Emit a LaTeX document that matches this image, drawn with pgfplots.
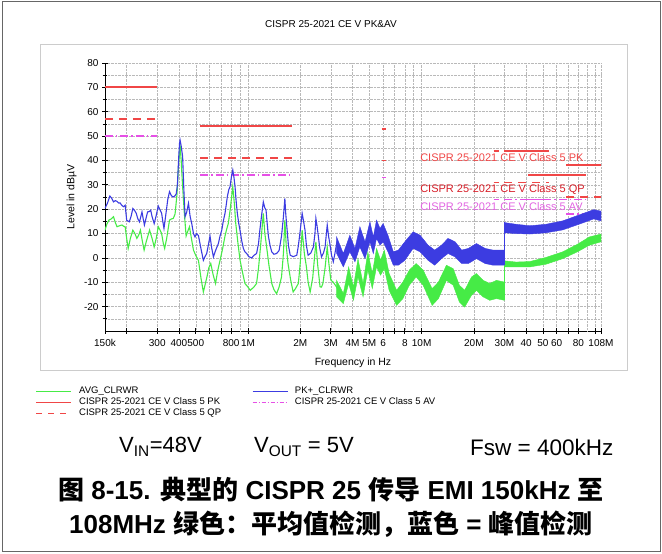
\documentclass[border=0pt]{standalone}
\usepackage{pgfplots}
\pgfplotsset{compat=1.18}
\usepackage{fontspec}
\setmainfont{Liberation Sans}
\newfontfamily\cjk{Noto Sans CJK SC}
\definecolor{avg}{RGB}{70,235,70}
\definecolor{pkp}{RGB}{60,60,225}
\definecolor{lred}{RGB}{240,70,70}
\definecolor{qptext}{RGB}{215,30,40}
\definecolor{avm}{RGB}{230,80,230}
\definecolor{avtext}{RGB}{225,100,225}
\begin{document}
\begin{tikzpicture}
\useasboundingbox (0pt,0pt) rectangle (662pt,554pt);
\draw[gray!80!black, line width=1pt] (2pt,2pt) rectangle (660pt,552pt);
\draw[gray!40, line width=0.8pt] (40pt,184pt) rectangle (627pt,510pt);
\node[font=\fontsize{10}{12}\selectfont] at (331pt,530pt) {CISPR 25-2021 CE V PK\&AV};
\begin{axis}[
  at={(105pt,223pt)}, anchor=south west,
  width=496pt, height=268pt, scale only axis,
  xmode=log, xmin=0.15, xmax=108, ymin=-30, ymax=80,
  axis x line*=bottom, axis y line*=left,
  x axis line style={-}, y axis line style={-},
  xtick={0.15,0.2,0.3,0.4,0.5,0.6,0.7,0.8,1,2,3,4,5,6,7,8,10,20,30,40,50,60,70,80,100,108},
  xticklabels={150k,,300,400,500,,,800,1M,2M,3M,4M,5M,6,,8,10M,20M,30M,40,50,60,,80,,108M},
  minor xtick={},
  extra x ticks={0.9,9,90},
  extra x tick labels={},
  extra x tick style={major tick length=0pt, grid=major},
  ytick={-20,-10,...,80},
  minor ytick={-25,-15,...,75},
  xmajorgrids, ymajorgrids, yminorgrids,
  major grid style={densely dotted, gray!55, line width=0.5pt},
  minor grid style={densely dotted, gray!55, line width=0.5pt},
  tick align=center, major tick length=6pt, minor tick length=5pt,
  every tick/.style={black, line width=0.7pt},
  ticklabel style={font=\fontsize{10}{12}\selectfont},
  xticklabel style={yshift=-2pt},
  /pgf/number format/assume math mode=true,
  xlabel={Frequency in Hz}, ylabel={Level in dBµV},
  label style={font=\fontsize{10.5}{12}\selectfont},
  xlabel style={at={(axis description cs:0.5,0)}, anchor=center, yshift=-31.5pt},
  ylabel style={at={(axis description cs:-0.067,0.5)}, anchor=center},
  unbounded coords=jump,
  legend columns=2,
  legend cell align=left,
  legend image code/.code={\draw[#1] (0pt,0pt) -- (35pt,0pt);},
  legend style={at={(axis description cs:-0.14,-0.205)}, anchor=north west,
    draw=none, fill=none, inner sep=0pt, outer sep=0pt,
    font=\fontsize{9.5}{10}\selectfont, row sep=0pt,
    nodes={inner sep=1pt, text height=7pt, text depth=2pt},
    /tikz/every odd column/.append style={column sep=6pt},
    /tikz/every even column/.append style={column sep=30pt}},
]
\addlegendimage{avg, line width=0.8pt}\addlegendentry{AVG\_CLRWR}
\addlegendimage{pkp, line width=0.8pt}\addlegendentry{PK+\_CLRWR}
\addlegendimage{lred, line width=1.6pt}\addlegendentry{CISPR 25-2021 CE V Class 5 PK}
\addlegendimage{avm, line width=0.8pt, dash pattern=on 4pt off 2pt on 1pt off 2pt}\addlegendentry{CISPR 25-2021 CE V Class 5 AV}
\addlegendimage{lred, line width=1pt, dash pattern=on 6pt off 6pt}\addlegendentry{CISPR 25-2021 CE V Class 5 QP}

% limit lines
\addplot[lred, line width=2.2pt, forget plot] coordinates {
(0.15,70) (0.3,70) (0.3,nan) (0.53,54) (1.8,54) (1.8,nan) (5.9,53) (6.2,53) (6.2,nan)
(26,44) (28,44) (28,nan) (30,44) (54,44) (54,nan) (41,34) (88,34) (88,nan) (68,38) (108,38)};
\addplot[lred, line width=1.6pt, dash pattern=on 8pt off 6pt, forget plot] coordinates {
(0.15,57) (0.3,57) (0.3,nan) (0.53,41) (1.8,41) (1.8,nan) (5.9,40) (6.2,40) (6.2,nan)
(26,31) (28,31) (28,nan) (30,31) (54,31) (54,nan) (68,25) (108,25)};
\addplot[avm, line width=1.2pt, dash pattern=on 8pt off 3pt on 1.5pt off 3pt, forget plot] coordinates {
(0.15,50) (0.3,50) (0.3,nan) (0.53,34) (1.8,34) (1.8,nan) (5.9,33) (6.2,33) (6.2,nan)
(26,24) (28,24) (28,nan) (30,24) (54,24) (54,nan) (41,24) (88,24) (88,nan) (68,18) (108,18)};

% AVG thin
\addplot[avg, line width=1.1pt, forget plot] coordinates {
(0.150,11.4) (0.154,14) (0.158,15.5) (0.163,16) (0.168,16.9) (0.172,14.5) (0.176,12.8) (0.182,13.2) (0.188,13.5) (0.192,13) (0.196,12.8) (0.200,8) (0.204,3.9) (0.210,8) (0.217,11.4) (0.223,10) (0.229,8) (0.235,9.5) (0.240,11.4) (0.246,7) (0.252,3.2) (0.260,7) (0.271,11.4) (0.280,8) (0.288,4.5) (0.296,8) (0.304,12.8) (0.311,11.5) (0.318,10) (0.325,6) (0.331,3.9) (0.340,8) (0.353,15.5) (0.362,16) (0.371,16.2) (0.380,18) (0.390,26.3) (0.398,38) (0.406,46.4) (0.412,40) (0.420,29.2) (0.430,18) (0.440,9) (0.450,11) (0.460,12.8) (0.472,8) (0.485,3.2) (0.500,1) (0.518,-1) (0.535,-8) (0.553,-14) (0.566,-11) (0.580,-7.8) (0.595,-4) (0.610,-2.3) (0.630,-7) (0.650,-10.5) (0.670,-5) (0.690,-1) (0.715,4) (0.737,9) (0.755,12) (0.770,14.1) (0.790,20) (0.817,29.2) (0.835,22) (0.850,14.1) (0.875,6) (0.900,-1) (0.930,-6) (0.960,-10.5) (1.00,-12) (1.03,-13.3) (1.08,-12) (1.12,-10.5) (1.15,-4) (1.18,4.5) (1.225,18.3) (1.25,10) (1.28,4.5) (1.32,-3) (1.37,-10.5) (1.41,-13) (1.46,-14.7) (1.51,-12) (1.56,-7.8) (1.60,2) (1.63,15.5) (1.66,5) (1.70,-2.3) (1.76,-9) (1.82,-14) (1.88,-12.5) (1.95,-10.5) (2.00,-2) (2.05,11.4) (2.11,2) (2.17,-3.7) (2.22,-10) (2.28,-14) (2.36,-8) (2.46,6.6) (2.52,-3) (2.60,-11.9) (2.65,-12) (2.70,-10.5) (2.78,-4) (2.86,4.5) (2.93,-3) (3.00,-9.1) (3.10,-10) (3.24,-12) (3.30,-13)};
% AVG bands
\addplot[avg, fill=avg, line width=0.4pt, forget plot] coordinates {
(3.24,-9.2) (3.54,-14.6) (3.8,-3.7) (4.05,-11.9) (4.3,-0.3) (4.6,-10.5) (4.9,2.5) (5.2,-6.4) (5.5,3.9) (5.8,-0.9) (6.1,3.2) (6.5,-6.4) (7.18,-13.3) (7.8,-9.9) (8.5,-5) (9.3,-2.3) (10.2,-5) (11.5,-12.6) (12.5,-9.9) (13.9,-3) (15.2,-4.4) (16.5,-11.2) (17.7,-13.3) (19.4,-7.8) (20.7,-6.4) (22.6,-9.2) (24.7,-10.5) (27,-9.2) (29.9,-9.9)
(29.9,-17.4) (27,-16.7) (24.7,-17.4) (22.6,-16) (20.7,-13.3) (19.4,-15.3) (17.7,-20.2) (16.5,-18.1) (15.2,-11.2) (13.9,-9.2) (12.5,-16.7) (11.5,-19.5) (10.2,-11.2) (9.3,-7.8) (8.5,-11.2) (7.8,-16.7) (7.18,-19.5) (6.5,-13.3) (6.1,-4.4) (5.8,-7.1) (5.5,-3.7) (5.2,-12.6) (4.9,-5) (4.6,-16) (4.3,-7.8) (4.05,-17.4) (3.8,-10.5) (3.54,-18.8) (3.24,-16)} --cycle;
\addplot[avg, fill=avg, line width=0.4pt, forget plot] coordinates {
(30,-1.2) (35,-1.7) (42,-1.5) (52,0.2) (65,2.5) (79,5.6) (92.5,8.6) (108,9.8)
(108,6.6) (92.5,5.2) (79,2.5) (65,-0.3) (52,-2.6) (42,-3.7) (35,-3.7) (30,-3.7)} --cycle;
\addplot[avg, line width=0.9pt, forget plot] coordinates {(30,-17.4) (30,-1.2)};

% PK+ thin
\addplot[pkp, line width=1.1pt, forget plot] coordinates {
(0.150,20.3) (0.155,22.5) (0.160,25.4) (0.164,24.5) (0.168,23) (0.172,23.5) (0.176,23.2) (0.180,22.5) (0.183,22.6) (0.188,21.5) (0.192,21) (0.196,21.6) (0.200,15.5) (0.207,14.8) (0.212,17) (0.217,20.3) (0.222,19.5) (0.227,18.3) (0.232,16) (0.237,14.8) (0.245,18.9) (0.249,16) (0.253,13.5) (0.258,16) (0.264,18.9) (0.270,19) (0.275,19.6) (0.280,17) (0.288,14.1) (0.295,17) (0.304,21.3) (0.310,20) (0.318,18.3) (0.323,15) (0.328,12.1) (0.335,17) (0.345,24) (0.353,27.2) (0.362,25.5) (0.371,25) (0.380,25.5) (0.386,26.3) (0.392,30) (0.398,40) (0.403,47) (0.406,48.4) (0.412,46) (0.420,41.6) (0.427,28) (0.434,16.9) (0.444,19) (0.454,22.4) (0.464,17) (0.474,14.1) (0.485,10) (0.495,8.6) (0.505,10) (0.518,9.2) (0.535,4) (0.553,-1) (0.565,0.5) (0.578,1.8) (0.590,5) (0.604,9) (0.618,4) (0.632,0.4) (0.650,3) (0.675,5.9) (0.690,9) (0.706,11.4) (0.720,15) (0.737,18.3) (0.750,22) (0.760,25.1) (0.775,28) (0.788,29.2) (0.805,34) (0.817,36.1) (0.830,33) (0.842,29.2) (0.855,23) (0.868,18.3) (0.885,14) (0.899,11.4) (0.920,7) (0.940,3.9) (0.960,2.5) (0.983,1.8) (1.01,0.5) (1.05,0) (1.08,1) (1.12,1.8) (1.15,6) (1.17,11.4) (1.20,18) (1.225,23) (1.25,20.5) (1.27,19.6) (1.29,14) (1.31,9) (1.34,5) (1.37,2.5) (1.41,1.5) (1.46,1.8) (1.51,3) (1.56,9) (1.60,17) (1.63,24.4) (1.65,18) (1.68,11.4) (1.71,5) (1.75,1.1) (1.82,0.5) (1.91,1.1) (1.95,5) (1.99,10) (2.05,18.3) (2.09,15) (2.13,11.4) (2.17,5) (2.22,1.1) (2.30,2) (2.38,4.5) (2.43,10) (2.46,16.2) (2.50,13) (2.54,9) (2.59,4) (2.65,0.4) (2.72,2) (2.78,4.5) (2.86,13.5) (2.91,9) (2.96,5.9) (3.03,1) (3.10,-1.6) (3.17,2) (3.24,5.9) (3.30,4)};
% PK+ bands
\addplot[pkp, fill=pkp, line width=0.4pt, forget plot] coordinates {
(3.24,8.6) (3.54,1.8) (3.86,9.3) (4.13,3.9) (4.41,12.8) (4.72,6.6) (5.04,14.8) (5.27,8.6) (5.5,15.5) (5.76,12.1) (6.0,14.1) (6.4,9.3) (6.87,2.5) (7.35,3.2) (8.0,6.6) (8.94,10.7) (9.8,9.3) (10.9,5.2) (11.9,3.2) (13.0,5.2) (14.2,8) (15.6,6.6) (17.0,3.2) (18.6,3.9) (20.7,5.9) (23.2,3.9) (25.8,3.2) (29.9,3.2)
(29.9,-3) (25.8,-3) (23.2,-2.3) (20.7,-0.3) (18.6,-2.3) (17.0,-2.3) (15.6,0.4) (14.2,1.8) (13.0,-0.3) (11.9,-3) (10.9,-1) (9.8,2.5) (8.94,3.9) (8.0,-1) (7.35,-3) (6.87,-3) (6.4,2.5) (6.0,6.6) (5.76,5.2) (5.5,8) (5.27,1.8) (5.04,6.6) (4.72,-0.3) (4.41,4.5) (4.13,-1.6) (3.86,2.5) (3.54,-3.7) (3.24,1.8)} --cycle;
\addplot[pkp, fill=pkp, line width=0.4pt, forget plot] coordinates {
(30,14.5) (35,13.8) (42,13.2) (52,13.8) (65,15.2) (82,17.8) (98,19.8) (108,19.2)
(108,15.2) (98,16) (82,14) (65,11.5) (52,10.3) (42,9.8) (35,10) (30,10.3)} --cycle;
\addplot[pkp, line width=0.9pt, forget plot] coordinates {(30,-3) (30,14.8)};

\node[anchor=west, text=lred, font=\fontsize{11}{12}\selectfont, inner sep=0pt] at (axis cs:9.8,41) {CISPR 25-2021 CE V Class 5 PK};
\node[anchor=west, text=qptext, font=\fontsize{11}{12}\selectfont, inner sep=0pt] at (axis cs:9.8,28.1) {CISPR 25-2021 CE V Class 5 QP};
\node[anchor=west, text=avtext, font=\fontsize{11}{12}\selectfont, inner sep=0pt] at (axis cs:9.8,21) {CISPR 25-2021 CE V Class 5 AV};
\end{axis}
\node[anchor=west, font=\fontsize{22}{26}\selectfont, inner sep=0pt] at (119pt,107pt) {V\textsubscript{IN}=48V};
\node[anchor=west, font=\fontsize{22}{26}\selectfont, inner sep=0pt] at (254pt,107pt) {V\textsubscript{OUT} = 5V};
\node[anchor=west, font=\fontsize{22.5}{26}\selectfont, inner sep=0pt] at (470pt,107pt) {Fsw = 400kHz};
\node[font=\bfseries\fontsize{26}{30}\selectfont, inner sep=0pt] at (331pt,64pt) {{\cjk 图} 8-15. {\cjk 典型的} CISPR 25 {\cjk 传导} EMI 150kHz {\cjk 至}};
\node[font=\bfseries\fontsize{26}{30}\selectfont, inner sep=0pt] at (331pt,30pt) {108MHz {\cjk 绿色：平均值检测，蓝色} = {\cjk 峰值检测}};
\end{tikzpicture}
\end{document}
